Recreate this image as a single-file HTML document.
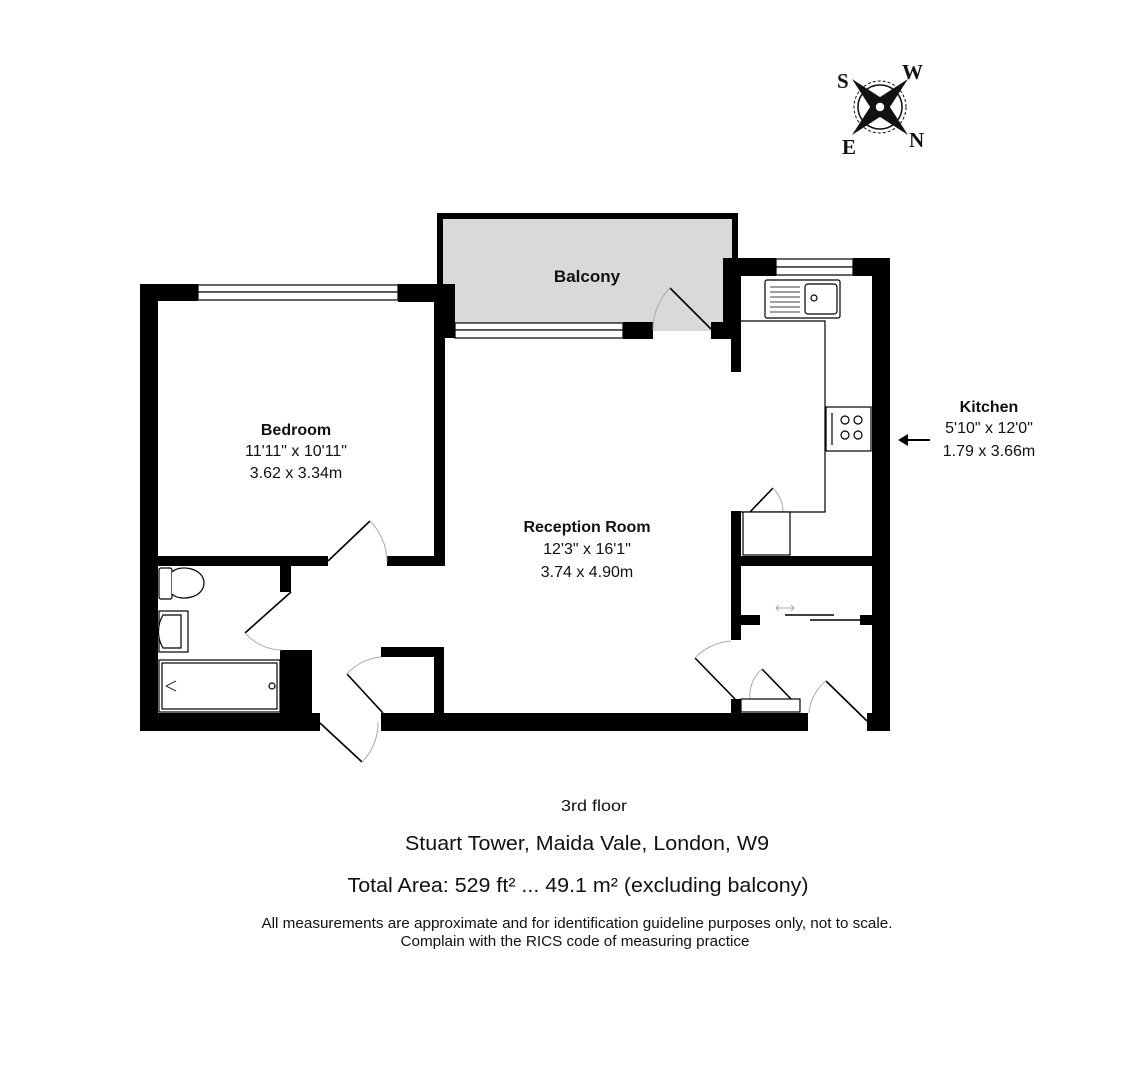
<!DOCTYPE html>
<html><head><meta charset="utf-8"><style>
html,body{margin:0;padding:0;background:#fff;}
svg{display:block;}
text{font-family:"Liberation Sans",Arial,sans-serif;fill:#111;}
</style></head><body>
<svg width="1141" height="1080" viewBox="0 0 1141 1080" xmlns="http://www.w3.org/2000/svg">
<!-- Compass -->
<g transform="translate(880,107)">
 <circle r="22" fill="none" stroke="#111" stroke-width="1.5"/>
 <circle r="26" fill="none" stroke="#111" stroke-width="1" stroke-dasharray="3,2"/>
 <polygon points="-28,-28 6,-6 0,0 -6,6" fill="#111"/>
 <polygon points="28,-28 6,6 0,0 -6,-6" fill="#111"/>
 <polygon points="28,28 -6,6 0,0 6,-6" fill="#111"/>
 <polygon points="-28,28 -6,-6 0,0 6,6" fill="#111"/>
 <circle r="5" fill="#fff" stroke="#111" stroke-width="1.5"/>
</g>
<g font-weight="bold" font-size="21">
 <text x="837" y="88" style="font-family:'Liberation Serif',serif">S</text>
 <text x="902" y="79" style="font-family:'Liberation Serif',serif">W</text>
 <text x="842" y="154" style="font-family:'Liberation Serif',serif">E</text>
 <text x="909" y="147" style="font-family:'Liberation Serif',serif">N</text>
</g>

<!-- Balcony -->
<rect x="440" y="216" width="295" height="110" fill="#d9d9d9" stroke="#000" stroke-width="6"/>
<rect x="443" y="219" width="289" height="112" fill="#d9d9d9"/>
<text x="587" y="282" font-size="17" font-weight="bold" text-anchor="middle">Balcony</text>

<g fill="#000">
 <rect x="140" y="284" width="18" height="447"/>
 <rect x="140" y="284" width="58" height="17"/>
 <rect x="398" y="284" width="54" height="18"/>
 <rect x="434" y="284" width="11" height="282"/>
 <rect x="437" y="284" width="18" height="54"/>
 <rect x="158" y="556" width="170" height="10"/>
 <rect x="387" y="556" width="57" height="10"/>
 <rect x="280" y="566" width="11" height="26"/>
 <rect x="280" y="650" width="32" height="63"/>
 <rect x="140" y="713" width="180" height="18"/>
 <rect x="623" y="322" width="30" height="17"/>
 <rect x="711" y="322" width="24" height="17"/>
 <rect x="723" y="258" width="53" height="18"/>
 <rect x="853" y="258" width="37" height="18"/>
 <rect x="872" y="258" width="18" height="473"/>
 <rect x="723" y="258" width="18" height="80"/>
 <rect x="731" y="276" width="10" height="96"/>
 <rect x="731" y="511" width="10" height="129"/>
 <rect x="741" y="556" width="131" height="10"/>
 <rect x="741" y="615" width="19" height="10"/>
 <rect x="860" y="615" width="12" height="10"/>
 <rect x="731" y="699" width="10" height="14"/>
 <rect x="381" y="713" width="427" height="18"/>
 <rect x="867" y="713" width="23" height="18"/>
 <rect x="381" y="647" width="63" height="10"/>
 <rect x="434" y="647" width="10" height="66"/>
</g>
<g fill="#fff" stroke="#000" stroke-width="1.2">
 <rect x="198" y="285" width="200" height="7"/><rect x="198" y="292" width="200" height="8"/>
 <rect x="455" y="323" width="168" height="7"/><rect x="455" y="330" width="168" height="8"/>
 <rect x="776" y="259" width="77" height="8"/><rect x="776" y="267" width="77" height="8"/>
</g>
<g fill="none" stroke="#000" stroke-width="1.6">
 <line x1="328" y1="561" x2="370" y2="521"/>
 <line x1="291" y1="592" x2="245" y2="633"/>
 <line x1="383" y1="713" x2="347" y2="674"/>
 <line x1="320" y1="723" x2="362" y2="762"/>
 <line x1="711" y1="329" x2="670" y2="288"/>
 <line x1="735" y1="699" x2="695" y2="658"/>
 <line x1="750" y1="512" x2="773" y2="488"/>
 <line x1="762" y1="669" x2="791" y2="699"/>
 <line x1="826" y1="681" x2="867" y2="721"/>
 <line x1="785" y1="615" x2="834" y2="615"/>
 <line x1="810" y1="620" x2="860" y2="620"/>
</g>
<g fill="none" stroke="#aaa" stroke-width="1">
 <path d="M370 521 A58 58 0 0 1 387 561"/>
 <path d="M245 633 A50 50 0 0 0 282 650"/>
 <path d="M347 674 A50 50 0 0 1 381 657"/>
 <path d="M362 762 A55 55 0 0 0 378 722"/>
 <path d="M670 288 A58 58 0 0 0 653 330"/>
 <path d="M695 658 A55 55 0 0 1 731 641"/>
 <path d="M773 488 A35 35 0 0 1 783 512"/>
 <path d="M762 669 A35 35 0 0 0 750 699"/>
 <path d="M826 681 A45 45 0 0 0 809 713"/>
 <path d="M776 608 h18 M776 608 l3 -3 M776 608 l3 3 M794 608 l-3 -3 M794 608 l-3 3"/>
</g>
<g fill="#fff" stroke="#000" stroke-width="1.2">
 <polyline points="741,321 825,321 825,512 741,512" fill="none"/>
 <rect x="743" y="512" width="47" height="43"/>
 <rect x="765" y="280" width="75" height="38" rx="2"/>
 <rect x="805" y="284" width="32" height="30" rx="3"/>
 <circle cx="814" cy="298" r="3"/>
 <rect x="826" y="407" width="45" height="44"/>
 <circle cx="845" cy="420" r="4"/><circle cx="858" cy="420" r="4"/>
 <circle cx="845" cy="435" r="4"/><circle cx="858" cy="435" r="4"/>
 <line x1="832" y1="413" x2="832" y2="445"/>
 <rect x="741" y="699" width="59" height="13"/>
 <rect x="159" y="568" width="13" height="31" rx="2"/>
 <path d="M172 572 C180 564 204 568 204 583 C204 598 180 602 172 594"/>
 <rect x="159" y="611" width="29" height="41"/>
 <path d="M163 615 h18 v33 h-18 c-6 -10 -6 -23 0 -33z"/>
 <rect x="159" y="660" width="121" height="52"/>
 <rect x="162" y="663" width="115" height="46"/>
 <circle cx="272" cy="686" r="3"/>
</g>
<g stroke="#000" stroke-width="0.8">
 <line x1="770" y1="287" x2="800" y2="287"/><line x1="770" y1="292" x2="800" y2="292"/>
 <line x1="770" y1="297" x2="800" y2="297"/><line x1="770" y1="302" x2="800" y2="302"/>
 <line x1="770" y1="307" x2="800" y2="307"/><line x1="770" y1="312" x2="800" y2="312"/>
 <line x1="166" y1="686" x2="176" y2="681"/><line x1="166" y1="686" x2="176" y2="691"/>
</g>
<g text-anchor="middle" font-size="16">
 <text x="296" y="435" font-weight="bold">Bedroom</text>
 <text x="296" y="456">11'11" x 10'11"</text>
 <text x="296" y="478">3.62 x 3.34m</text>
 <text x="587" y="532" font-weight="bold">Reception Room</text>
 <text x="587" y="554">12'3" x 16'1"</text>
 <text x="587" y="577">3.74 x 4.90m</text>
 <text x="989" y="412" font-weight="bold">Kitchen</text>
 <text x="989" y="433">5'10" x 12'0"</text>
 <text x="989" y="456">1.79 x 3.66m</text>
</g>
<line x1="905" y1="440" x2="930" y2="440" stroke="#000" stroke-width="2"/>
<polygon points="898,440 908,434 908,446" fill="#000"/>
<g text-anchor="middle">
 <text x="594" y="811" font-size="16" textLength="66" lengthAdjust="spacingAndGlyphs">3rd floor</text>
 <text x="587" y="850" font-size="20" textLength="364" lengthAdjust="spacingAndGlyphs">Stuart Tower, Maida Vale, London, W9</text>
 <text x="578" y="892" font-size="20" textLength="461" lengthAdjust="spacingAndGlyphs">Total Area: 529 ft² ... 49.1 m² (excluding balcony)</text>
 <text x="577" y="928" font-size="15" textLength="631" lengthAdjust="spacingAndGlyphs">All measurements are approximate and for identification guideline purposes only, not to scale.</text>
 <text x="575" y="946" font-size="15" textLength="349" lengthAdjust="spacingAndGlyphs">Complain with the RICS code of measuring practice</text>
</g>
</svg>
</body></html>
